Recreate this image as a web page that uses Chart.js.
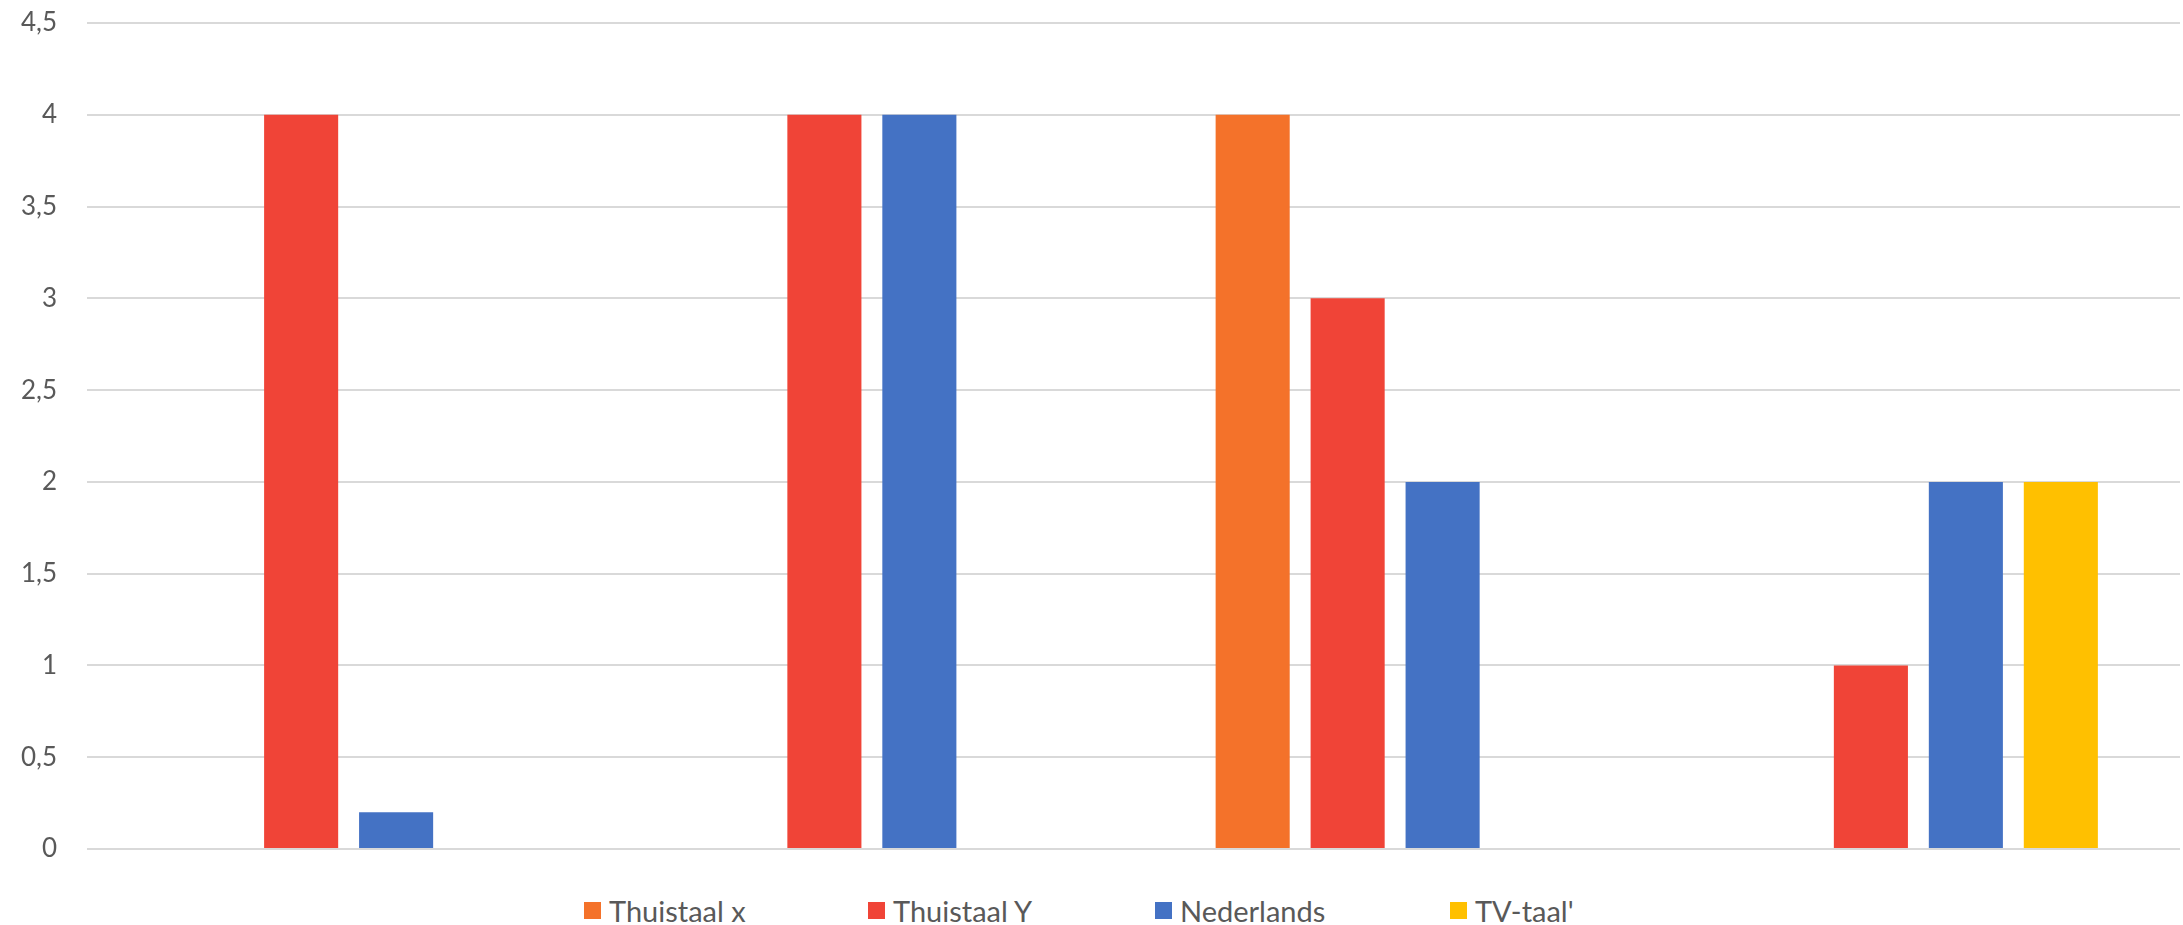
<!DOCTYPE html>
<html>
<head>
<meta charset="utf-8">
<script src="https://cdn.jsdelivr.net/npm/chart.js@4"></script>
<style>
  html, body { margin: 0; padding: 0; background: #fff; overflow: hidden; }
  #wrap { position: relative; width: 2183px; height: 880px; }
  #legend { display: flex; justify-content: flex-start; box-sizing: border-box;
            height: 45px; padding: 15px 0 0 584px; align-items: center;
            font-family: Lato, sans-serif; font-size: 29px; color: #595959; }
  .item { display: flex; align-items: center; flex: none; }
  .box { width: 17px; height: 17px; margin-right: 8px; flex: none; }
</style>
</head>
<body>
<div id="wrap"><canvas id="barChart"></canvas></div>
<div id="legend"></div>
<script>
const ctx = document.getElementById("barChart");

// DATA
const categories = ['', '', '', ''];
const thuistaalX = [0, 0, 4, 0];
const thuistaalY = [4, 4, 3, 1];
const nederlands = [0.2, 4, 2, 2];
const tvTaal = [0, 0, 0, 2];
const yTicks = [0, 0.5, 1, 1.5, 2, 2.5, 3, 3.5, 4, 4.5];

const series = [
    { label: 'Thuistaal x', data: thuistaalX, color: '#F4722A' },
    { label: 'Thuistaal Y', data: thuistaalY, color: '#F04437' },
    { label: 'Nederlands', data: nederlands, color: '#4472C4' },
    { label: "TV-taal'", data: tvTaal, color: '#FFC000' }
];
// legend item widths (box to next box)
const legendWidths = [284, 287, 295, null];

let barChart = new Chart(ctx, {
    type: 'bar',
    data: {
        labels: categories,
        datasets: series.map(s => ({
            label: s.label,
            data: s.data,
            backgroundColor: s.color,
            borderWidth: 0,
            categoryPercentage: 0.726,
            barPercentage: 0.78
        }))
    },
    options: {
        responsive: true,
        maintainAspectRatio: false,
        animation: false,
        layout: { padding: { top: 23, right: 3, bottom: 23, left: 7 } },
        plugins: {
            legend: { display: false },
            tooltip: { enabled: false }
        },
        scales: {
            x: {
                grid: { display: false },
                border: { display: false },
                ticks: { display: false }
            },
            y: {
                min: 0,
                max: 4.5,
                afterBuildTicks: (scale) => { scale.ticks = yTicks.map(v => ({ value: v })); },
                afterFit: (scale) => {
                    // tick padding is only meant for the gap to the plot
                    scale.width = 80;
                    scale.paddingTop = 0;
                    scale.paddingBottom = 0;
                },
                grid: { color: '#D9D9D9', lineWidth: 2, drawTicks: false },
                border: { display: false },
                ticks: {
                    padding: 30,
                    color: '#595959',
                    font: { family: 'Lato', size: 26 },
                    callback: (v) => String(v).replace('.', ',')
                }
            }
        }
    }
});

// legend below the chart
const legend = document.getElementById('legend');
series.forEach((s, i) => {
    const item = document.createElement('div');
    item.className = 'item';
    if (legendWidths[i]) item.style.width = legendWidths[i] + 'px';
    const box = document.createElement('span');
    box.className = 'box';
    box.style.background = s.color;
    const txt = document.createElement('span');
    txt.textContent = s.label;
    item.appendChild(box);
    item.appendChild(txt);
    legend.appendChild(item);
});
</script>
</body>
</html>
